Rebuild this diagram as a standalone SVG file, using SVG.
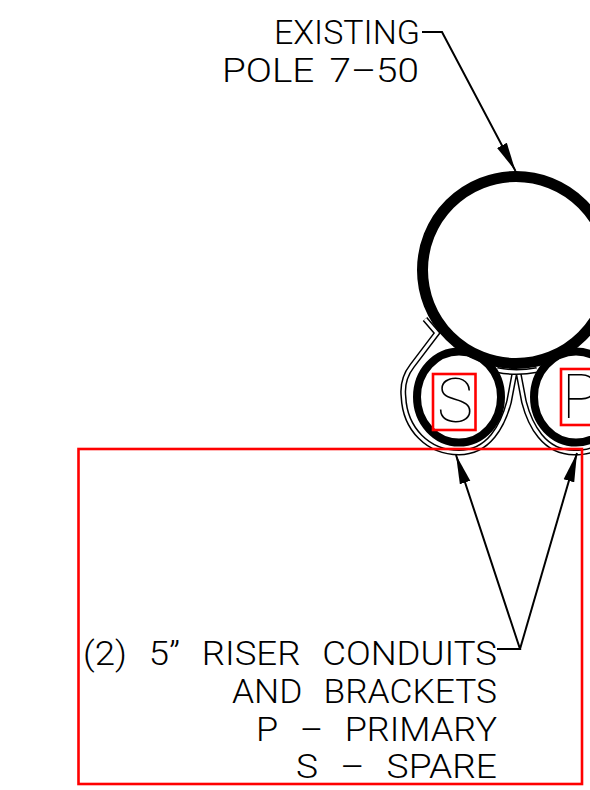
<svg xmlns="http://www.w3.org/2000/svg" width="590" height="790" viewBox="0 0 590 790">
<style>
text{font-family:"Roboto","Liberation Sans",sans-serif;font-weight:300;font-size:34px;fill:#000;word-spacing:12px}
.tight{word-spacing:5px}
.big{font-weight:100;font-size:61px}
.red{fill:none;stroke:#f00;stroke-width:2.600}
.ring{fill:none;stroke:#000}
.band1{fill:none;stroke:#000;stroke-width:6;stroke-linejoin:miter}
.band2{fill:none;stroke:#fff;stroke-width:3;stroke-linejoin:miter}
.lead{fill:none;stroke:#000;stroke-width:2}
</style>
<defs>
<marker id="arrow" markerUnits="userSpaceOnUse" markerWidth="30" markerHeight="12" refX="29" refY="6" orient="auto"><path d="M0 0.500L29 6L0 11.500Z" fill="#000"/></marker>
<path id="bandpath" d="M425 319L437 333L412 366C405 375 402 384 403.500 397C405 429 428 452.500 459 452.500C489 452.500 503 425 509 402L514.500 373M518.500 373L524 402C530 425 544 452.500 574 452.500C581 452.500 590 451 594 449"/>
<path id="strap" d="M497 370Q516 374 537 370"/>
</defs>
<g id="bracket">
<use href="#bandpath" class="band1"/><use href="#bandpath" class="band2"/>
<use href="#strap" class="band1"/><use href="#strap" class="band2"/>
</g>
<g id="pole"><circle class="ring" cx="516" cy="270" r="93.500" stroke-width="11"/></g>
<g id="conduit-s"><ellipse class="ring" cx="459" cy="397" rx="42" ry="45.500" stroke-width="8"/><rect class="red" x="433" y="374" width="42.500" height="56"/><text class="big" x="437" y="422" textLength="36" lengthAdjust="spacingAndGlyphs">S</text></g>
<g id="conduit-p"><ellipse class="ring" cx="576" cy="397" rx="42" ry="45.500" stroke-width="8"/><rect class="red" x="561" y="369" width="40" height="56"/><text class="big" x="562" y="418">P</text></g>
<g id="callout-box"><rect class="red" x="78.500" y="449" width="503.500" height="335"/></g>
<g id="connectors">
<path class="lead" d="M422 32H442L515.500 171" marker-end="url(#arrow)"/>
<path class="lead" d="M497 649H520L456 455" marker-end="url(#arrow)"/>
<path class="lead" d="M520 649L577 453" marker-end="url(#arrow)"/>
</g>
<g id="label-pole">
<text x="274" y="44" textLength="146" lengthAdjust="spacingAndGlyphs">EXISTING</text>
<text class="tight" x="222" y="82" textLength="197" lengthAdjust="spacingAndGlyphs">POLE 7–50</text>
</g>
<g id="label-conduits">
<text x="83" y="665" textLength="414" lengthAdjust="spacingAndGlyphs">(2) 5” RISER CONDUITS</text>
<text x="232" y="703" textLength="265" lengthAdjust="spacingAndGlyphs">AND BRACKETS</text>
<text x="256" y="741" textLength="241" lengthAdjust="spacingAndGlyphs">P – PRIMARY</text>
<text x="296" y="778" textLength="201" lengthAdjust="spacingAndGlyphs">S – SPARE</text>
</g>
</svg>
